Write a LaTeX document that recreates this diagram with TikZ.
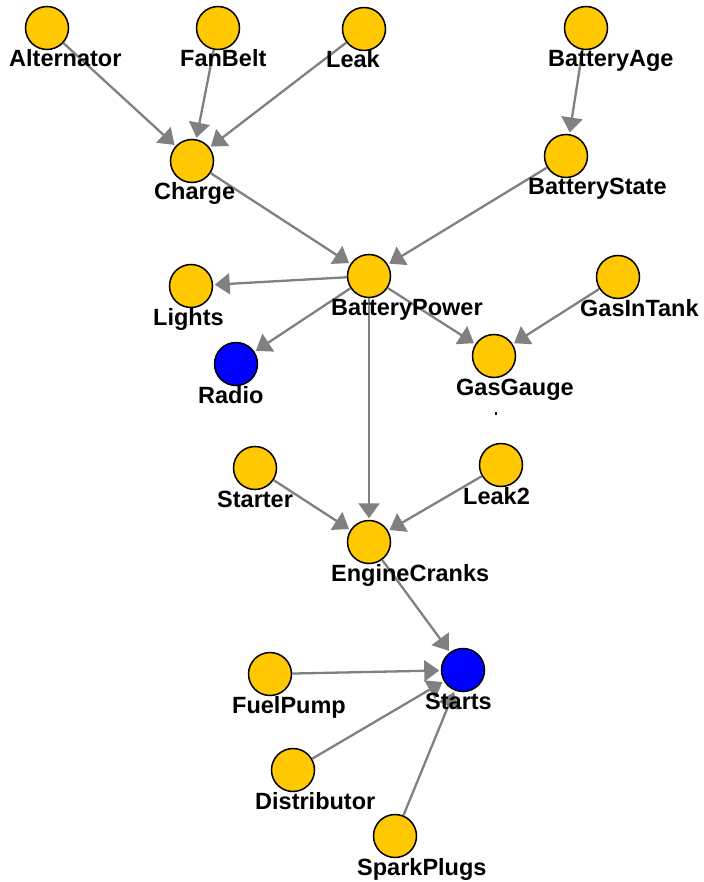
\documentclass[tikz,border=0pt]{standalone}
\usepackage{fontspec}
\setmainfont{Liberation Sans}
\usepackage{tikz}
\usetikzlibrary{arrows.meta}

\definecolor{varyellow}{RGB}{255,200,0}
\definecolor{obsblue}{RGB}{0,0,255}
\definecolor{edgegray}{RGB}{128,128,128}

\tikzset{
	var/.style={circle, draw=black, line width=1.5pt, fill=varyellow, minimum size=43pt, inner sep=0},
	obs/.style={var, fill=obsblue},
	lbl/.style={anchor=base west, inner sep=0, font=\fontsize{23.5}{28}\selectfont\bfseries},
	dep/.style={draw=edgegray, line width=2.3pt, -{Triangle[length=15pt, width=21pt]}, shorten >=1.5pt}
}

\begin{document}
\begin{tikzpicture}[x=1pt, y=-1pt]
	\useasboundingbox (0,0) rectangle (703,882);
	% Variables:
	\node[var] (Alternator) at (47, 28) {};
	\node[var] (FanBelt) at (218, 28) {};
	\node[var] (Leak) at (364, 29) {};
	\node[var] (BatteryAge) at (586, 28) {};
	\node[var] (Charge) at (192, 161) {};
	\node[var] (BatteryState) at (566, 156) {};
	\node[var] (Lights) at (191, 286) {};
	\node[var] (BatteryPower) at (369, 276) {};
	\node[var] (GasInTank) at (618, 277) {};
	\node[obs] (Radio) at (236, 364) {};
	\node[var] (GasGauge) at (494, 356) {};
	\node[var] (Starter) at (255, 468) {};
	\node[var] (Leak2) at (501, 465) {};
	\node[var] (EngineCranks) at (369, 542) {};
	\node[obs] (Starts) at (463, 670) {};
	\node[var] (FuelPump) at (270, 674) {};
	\node[var] (Distributor) at (293, 770) {};
	\node[var] (SparkPlugs) at (395, 836) {};
	% Dependencies:
	\draw[dep] (Alternator) -- (Charge);
	\draw[dep] (FanBelt) -- (Charge);
	\draw[dep] (Leak) -- (Charge);
	\draw[dep] (BatteryAge) -- (BatteryState);
	\draw[dep] (Charge) -- (BatteryPower);
	\draw[dep] (BatteryState) -- (BatteryPower);
	\draw[dep] (BatteryPower) -- (Lights);
	\draw[dep] (BatteryPower) -- (Radio);
	\draw[dep] (BatteryPower) -- (GasGauge);
	\draw[dep] (GasInTank) -- (GasGauge);
	\draw[dep] (BatteryPower) -- (EngineCranks);
	\draw[dep] (Starter) -- (EngineCranks);
	\draw[dep] (Leak2) -- (EngineCranks);
	\draw[dep] (EngineCranks) -- (Starts);
	\draw[dep] (FuelPump) -- (Starts);
	\draw[dep] (Distributor) -- (Starts);
	\draw[dep] (SparkPlugs) -- (Starts);
	% Labels:
	\node[lbl] at ([xshift=-38pt, yshift=-39pt]Alternator.center) {Alternator};
	\node[lbl] at ([xshift=-38pt, yshift=-39pt]FanBelt.center) {FanBelt};
	\node[lbl] at ([xshift=-38pt, yshift=-39pt]Leak.center) {Leak};
	\node[lbl] at ([xshift=-38pt, yshift=-39pt]BatteryAge.center) {BatteryAge};
	\node[lbl] at ([xshift=-38pt, yshift=-39pt]Charge.center) {Charge};
	\node[lbl] at ([xshift=-38pt, yshift=-39pt]BatteryState.center) {BatteryState};
	\node[lbl] at ([xshift=-38pt, yshift=-39pt]Lights.center) {Lights};
	\node[lbl] at ([xshift=-38pt, yshift=-39pt]BatteryPower.center) {BatteryPower};
	\node[lbl] at ([xshift=-38pt, yshift=-39pt]GasInTank.center) {GasInTank};
	\node[lbl] at ([xshift=-38pt, yshift=-39pt]Radio.center) {Radio};
	\node[lbl] at ([xshift=-38pt, yshift=-39pt]GasGauge.center) {GasGauge};
	\node[lbl] at ([xshift=-38pt, yshift=-39pt]Starter.center) {Starter};
	\node[lbl] at ([xshift=-38pt, yshift=-39pt]Leak2.center) {Leak2};
	\node[lbl] at ([xshift=-38pt, yshift=-39pt]EngineCranks.center) {EngineCranks};
	\node[lbl] at ([xshift=-38pt, yshift=-39pt]Starts.center) {Starts};
	\node[lbl] at ([xshift=-38pt, yshift=-39pt]FuelPump.center) {FuelPump};
	\node[lbl] at ([xshift=-38pt, yshift=-39pt]Distributor.center) {Distributor};
	\node[lbl] at ([xshift=-38pt, yshift=-39pt]SparkPlugs.center) {SparkPlugs};
	\fill (495,412) rectangle (497,415);
\end{tikzpicture}
\end{document}
